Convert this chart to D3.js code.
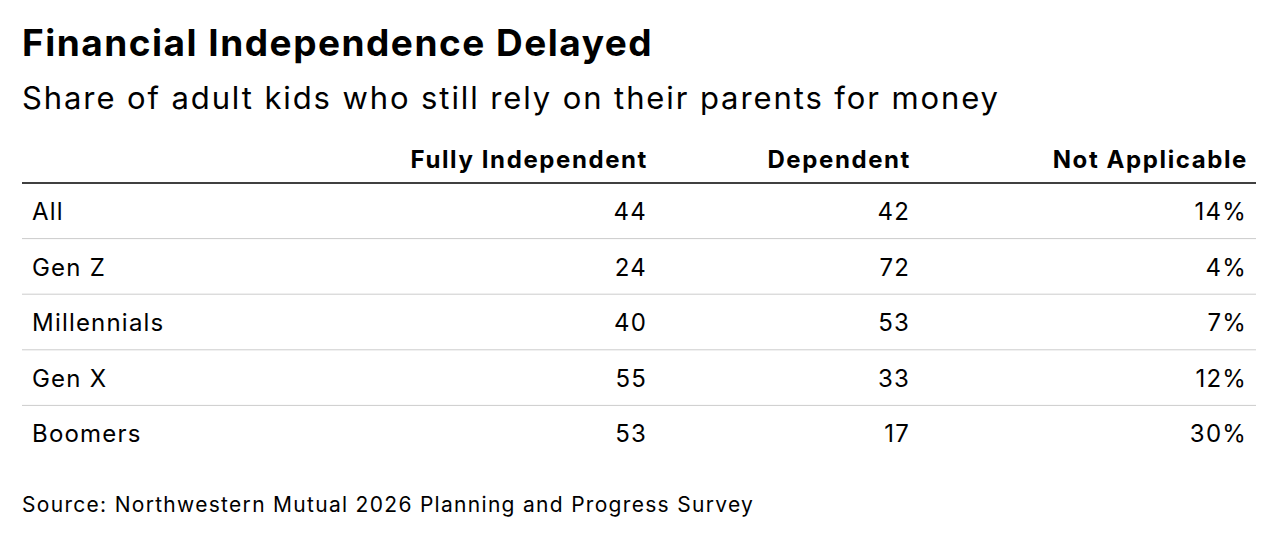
<!DOCTYPE html>
<html>
<head>
<meta charset="utf-8">
<script src="https://cdn.jsdelivr.net/npm/d3@7"></script>
<style>
  body { margin: 0; background: #fff; }
  text { font-family: Inter, "Noto Sans", sans-serif; fill: #000; }
</style>
</head>
<body>
<svg id="chart" width="1276" height="550"></svg>
<script>
const groups = ["All", "Gen Z", "Millennials", "Gen X", "Boomers"];
const columns = ["Fully Independent", "Dependent", "Not Applicable"];
const independent = [44, 24, 40, 55, 53];
const dependent = [42, 72, 53, 33, 17];
const notApplicable = ["14%", "4%", "7%", "12%", "30%"];

let svg = d3.select("#chart");

svg.append("text").attr("x", 22).attr("y", 56)
  .style("font-size", "37px").style("font-weight", 700).style("letter-spacing", "1.5px")
  .text("Financial Independence Delayed");
svg.append("text").attr("x", 22).attr("y", 109)
  .style("font-size", "31px").style("letter-spacing", "1.9px")
  .text("Share of adult kids who still rely on their parents for money");

// column right edges
let colX = d3.scaleOrdinal().domain(columns).range([647, 910, 1247]);
let yScale = d3.scaleBand().domain(groups).range([183, 461]);

svg.selectAll(".head").data(columns).enter().append("text")
  .attr("x", (d) => colX(d) + 1).attr("y", 168)
  .attr("text-anchor", "end")
  .style("font-size", "24px").style("font-weight", 700).style("letter-spacing", "1.6px")
  .text((d) => d);

svg.append("line").attr("x1", 22).attr("x2", 1256).attr("y1", 183).attr("y2", 183)
  .attr("stroke", "#000").attr("stroke-width", 1.5);

let rows = groups.map((g, i) => ({ g, vals: [independent[i], dependent[i], notApplicable[i]] }));

let row = svg.selectAll(".row").data(rows).enter().append("g")
  .attr("transform", (d) => `translate(0,${yScale(d.g)})`);

row.filter((d, i) => i < groups.length - 1).append("line")
  .attr("x1", 22).attr("x2", 1256)
  .attr("y1", yScale.bandwidth()).attr("y2", yScale.bandwidth())
  .attr("stroke", "#ccc").attr("stroke-width", 1);

row.append("text").attr("x", 32).attr("y", 37)
  .style("font-size", "24px").style("letter-spacing", "1.2px").text((d) => d.g);

row.selectAll(".v").data((d) => d.vals).enter().append("text")
  .attr("x", (d, i) => colX(columns[i])).attr("y", 37)
  .attr("text-anchor", "end").style("font-size", "24px").style("letter-spacing", "1.2px")
  .text((d) => d);

svg.append("text").attr("x", 22).attr("y", 512)
  .style("font-size", "21px").style("letter-spacing", "1.3px")
  .text("Source: Northwestern Mutual 2026 Planning and Progress Survey");
</script>
</body>
</html>
